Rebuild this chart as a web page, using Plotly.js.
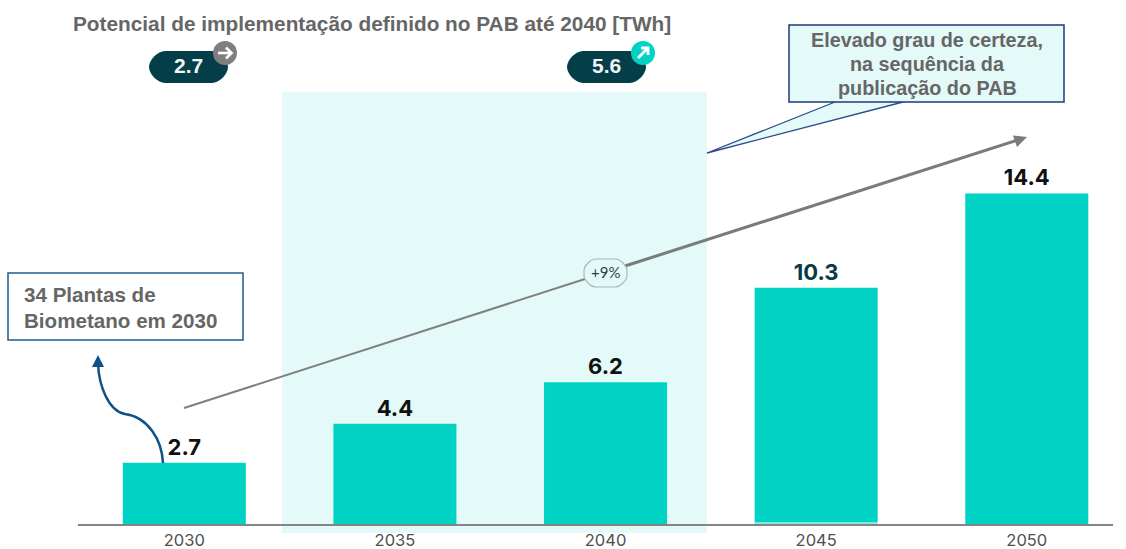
<!DOCTYPE html>
<html><head><meta charset="utf-8">
<script src="https://cdn.plot.ly/plotly-3.0.0.min.js"></script>
<style>html,body{margin:0;padding:0;background:#fff}#c{width:1126px;height:549px}</style>
</head><body><div id="c"></div>
<script>
const categories = ["2030","2035","2040","2045","2050"];
const values = [2.7,4.4,6.2,10.3,14.4];
const valueLabels = ["2.7","4.4","6.2","10.3","14.4"];
const labelColors = ["#111","#111","#111","#0b3a44","#111"];
const pillValues = ["2.7","5.6"];
const W=1126,H=549,B=525;
const X=x=>x/W, Y=y=>(B-y)/B;
const P=pts=>pts.map((p,i)=>(i?'L':'M')+X(p[0]).toFixed(5)+','+Y(p[1]).toFixed(5)).join(' ');
const base={xref:'paper',yref:'paper'};
const rect=(x0,y0,x1,y1,o)=>Object.assign({type:'rect',x0:X(x0),x1:X(x1),y0:Y(y1),y1:Y(y0)},base,o);
const line=(pts,c,w)=>Object.assign({type:'path',path:P(pts),line:{color:c,width:w}},base);
const poly=(pts,c)=>Object.assign({type:'path',path:P(pts)+' Z',fillcolor:c,line:{width:0}},base);
function round(x0,y0,x1,y1,r){const k=0.45*r;
 const f=(x,y)=>X(x).toFixed(5)+','+Y(y).toFixed(5);
 return `M${f(x0+r,y0)} L${f(x1-r,y0)} C${f(x1-r+k,y0)} ${f(x1,y0+r-k)} ${f(x1,y0+r)} L${f(x1,y1-r)} C${f(x1,y1-r+k)} ${f(x1-r+k,y1)} ${f(x1-r,y1)} L${f(x0+r,y1)} C${f(x0+r-k,y1)} ${f(x0,y1-r+k)} ${f(x0,y1-r)} L${f(x0,y0+r)} C${f(x0,y0+r-k)} ${f(x0+r-k,y0)} ${f(x0+r,y0)} Z`;}
const pill=(x0,x1,y0,y1,r,fill,lc,lw)=>Object.assign({type:'path',path:round(x0,y0,x1,y1,r),fillcolor:fill,line:{color:lc||fill,width:lw||0}},base);
const circle=(cx,cy,r,c)=>Object.assign({type:'circle',x0:X(cx-r),x1:X(cx+r),y0:Y(cy+r),y1:Y(cy-r),fillcolor:c,line:{width:0}},base);
const curve=(()=>{const f=(x,y)=>X(x).toFixed(5)+','+Y(y).toFixed(5);
 return `M${f(163,463)} C${f(162,440)} ${f(148,417)} ${f(125,414)} C${f(108,411)} ${f(99,385)} ${f(98,364)}`;})();
const shapes=[
 rect(282,92,707,533,{fillcolor:'#E3FAF8',line:{width:0},layer:'below'}),
 poly([[835,102],[707,153],[903,102]],'#E3FAF8'),
 line([[835,102],[707,153],[903,102]],'#2B4A8C',1.3),
 rect(789,25,1064,102,{fillcolor:'#E3FAF8',line:{color:'#1F3A7A',width:1.5}}),
 line([[755,523],[878,523]],'#ffffff',1.2),
 line([[78,525],[1113,525]],'#858585',2),
 line([[184,408],[585,279]],'#808080',2),
 line([[625,266],[1018,140]],'#7b7b7b',3),
 poly([[1027,137],[1013,135.5],[1017,147]],'#7b7b7b'),
 pill(584,627,259,287,12,'#E3FAF8','#a9b8b8',1.2),
 rect(8,273,243,340,{fillcolor:'#fff',line:{color:'#1F5C8C',width:1.5}}),
 Object.assign({type:'path',path:curve,line:{color:'#0F5288',width:2.5}},base),
 poly([[98,355],[92,367],[104,367]],'#0F5288'),
 pill(149,228,51,83,16,'#033E49'),
 pill(567,646,51,83,16,'#033E49'),
 circle(225,53,12,'#7f7f7f'),
 line([[218,53],[231,53]],'#fff',2.6),
 line([[226,47.5],[231.5,53],[226,58.5]],'#fff',2.6),
 circle(643,53,12,'#00D2C4'),
 line([[638,58],[648,48]],'#fff',2.8),
 line([[641,48],[648,48],[648,55]],'#fff',2.8)
];
const note=(x,y,text,size,color,o)=>Object.assign({xref:'paper',yref:'paper',x:X(x),y:Y(y),text,showarrow:false,
  font:{family:'Liberation Sans',size,color},xanchor:'center',yanchor:'middle'},o||{});
const annotations=[
 note(372,24,'<b>Potencial de implementação definido no PAB até 2040 [TWh]</b>',20.8,'#666'),
 note(188,66,'<b>'+pillValues[0]+'</b>',21,'#f2f5f5'),
 note(606,66,'<b>'+pillValues[1]+'</b>',21,'#f2f5f5'),
 note(927,40,'<b>Elevado grau de certeza,</b>',19.8,'#666'),
 note(927,64,'<b>na sequência da</b>',19.8,'#666'),
 note(927,88,'<b>publicação do PAB</b>',19.8,'#666'),
 note(22,294,'<b>34 Plantas de</b>',20.6,'#666',{xanchor:'left'}),
 note(22,320,'<b>Biometano em 2030</b>',20.6,'#666',{xanchor:'left'}),
 note(605,272,'+9%',15,'#333f48',{font:{family:'Lato',size:15,color:'#333f48'}})
];
const data=[{type:'bar',x:categories,y:values,width:0.584,marker:{color:'#00D2C4',line:{width:0}},
  text:valueLabels,textposition:'outside',cliponaxis:false,
  textfont:{family:'Inter',size:22,color:labelColors,weight:700},hoverinfo:'skip'}];
const layout={width:W,height:H,margin:{l:0,r:0,t:0,b:H-B,pad:0},paper_bgcolor:'#fff',plot_bgcolor:'rgba(0,0,0,0)',
 showlegend:false,shapes,annotations,
 xaxis:{type:'category',range:[-0.875,4.471],showgrid:false,zeroline:false,showline:false,ticks:'',ticklabelstandoff:3,
   tickfont:{family:'Inter',size:16.5,color:'#505050'},automargin:false,categoryorder:'array',categoryarray:categories},
 yaxis:{range:[0,22.8],visible:false,automargin:false}};
Plotly.newPlot('c',data,layout,{displayModeBar:false,staticPlot:true});
</script></body></html>
